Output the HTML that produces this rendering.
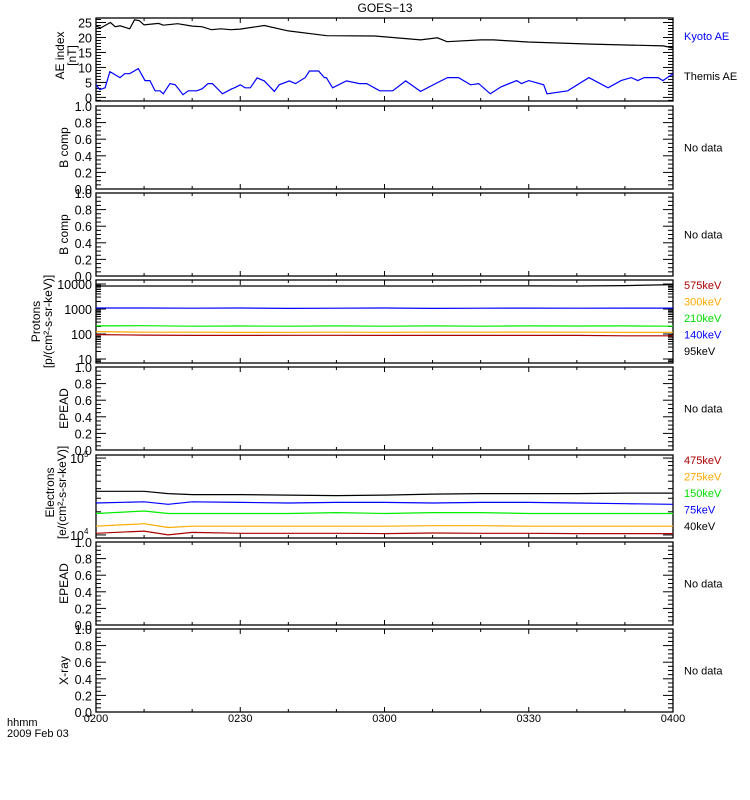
<!DOCTYPE html>
<html><head><meta charset="utf-8"><style>
html,body{margin:0;padding:0;background:#fff;}
svg{display:block;font-family:"Liberation Sans",sans-serif;}
</style></head><body>
<svg id="chart" width="750" height="800" viewBox="0 0 750 800" xmlns="http://www.w3.org/2000/svg">
<text x="385" y="12" font-size="12" text-anchor="middle">GOES−13</text>
</svg>
<script>
// ---- data ----
const aeKyotoTimes=[0,1,3,4,5,7,8,9,10,13,14,17,20,22,24,26,28,30,35,40,48,58,67.5,71,73,80,82.7,89.8,103,118,120];
const aeKyotoValues=[23.8,23.2,25,23.6,23.9,22.9,25.9,25.6,24.2,24.7,24.1,24.6,23.8,23.6,22.6,22.9,22.6,22.8,24,22.2,20.6,20.5,19.2,19.9,18.6,19.2,19.2,18.5,17.8,17.2,16.5];
const aeThemisTimes=[0,0.8,1.9,2.9,5,6,7,8.8,10.2,11.2,12.3,13.3,14,15.4,16.5,18.1,19.2,21,22.1,23.3,24.2,26.3,28.3,28.8,30,31,32.1,33.5,35,37.1,38.1,40.2,41.5,43.5,44.4,46.3,47.5,47.9,49.2,52.1,54.8,56.3,59,61.7,64.4,67.5,70.6,73.1,75.4,77.9,79.6,82,84.2,87.5,88.5,90,93.1,93.8,98.1,102.5,106.5,109.2,111.3,112.7,114,116.9,117.9,120];
const aeThemisValues=[4.2,2.6,3.2,8.6,6.6,7.9,7.9,9.6,5.6,5.6,2.2,2.2,1.2,4.6,4.2,0.9,2.2,2.2,2.9,4.6,4.6,1.2,2.9,3.2,4.2,3.2,3.2,6.5,5.5,2.0,4.2,5.5,4.6,6.6,8.8,8.8,6.6,6.6,3.2,5.5,4.6,4.6,2.2,2.2,5.5,2.0,4.6,6.6,6.6,4.2,4.6,1.2,3.5,5.6,4.6,5.6,4.2,1.2,2.2,6.6,3.2,5.6,6.6,5.6,6.6,6.6,5.6,7.9];
const protonTimes=[0,10,20,30,40,50,60,70,80,90,100,110,120];
const proton95=[8300,8300,8300,8300,8300,8300,8300,8300,8400,8400,8300,8600,9500];
const proton140=[1100,1100,1080,1100,1060,1080,1100,1060,1080,1090,1080,1090,1090];
const proton210=[210,215,205,208,205,210,206,210,205,210,208,210,205];
const proton300=[125,118,118,116,117,118,117,118,118,119,118,117,117];
const proton575=[95,90,88,88,89,89,88,88,88,88,88,85,85];
const elecTimes=[0,10,15,20,30,40,50,60,70,80,90,100,110,120];
const elec40=[37000,37000,34500,33500,33500,33000,32500,33000,34000,34500,34500,34500,35000,35000];
const elec75=[26000,27000,25000,27000,26500,26000,26500,26500,26000,26500,26500,26000,25500,25000];
const elec150=[19000,20500,19000,19000,19000,19000,19500,19000,19500,19500,19000,19000,19000,19000];
const elec275=[13000,14000,12500,13000,13000,13000,13000,13000,13200,13200,13000,13000,13000,13000];
const elec475=[10500,11200,10000,10800,10500,10500,10500,10400,10600,10500,10500,10400,10400,10400];
const timeTickLabels=['0200','0230','0300','0330','0400'];

// ---- layout ----
const svg=document.getElementById('chart');
const NS='http://www.w3.org/2000/svg';
const L=96,R=673,H=83;
const tops=[18,106,193,280,367,455,542,629];
const xS=t=>L+(R-L)*t/120;
function el(tag,attrs,parent){const e=document.createElementNS(NS,tag);for(const k in attrs)e.setAttribute(k,attrs[k]);(parent||svg).appendChild(e);return e;}
function txt(s,x,y,attrs,parent){const e=el('text',Object.assign({x:x,y:y,'font-size':12},attrs||{}),parent);e.textContent=s;return e;}

function frame(i,name){
  const g=el('g',{});
  
  
  const t=tops[i];
  const r=el('rect',{x:L,y:t,width:R-L,height:H,fill:'none',stroke:'#000','stroke-width':1.3},g);
  
  
  for(let m=0;m<=120;m+=10){
    const x=xS(m),len=(m%30===0)?5:3;
    el('line',{x1:x,y1:t+H,x2:x,y2:t+H-len,stroke:'#000'},g);
    el('line',{x1:x,y1:t,x2:x,y2:t+len,stroke:'#000'},g);
  }
  return g;
}
function linTicks(g,t,min,max,major,minor,fmt){
  const ys=v=>t+H-(v-min)/(max-min)*H;
  const n0=Math.ceil(min/minor-1e-9),n1=Math.floor(max/minor+1e-9);
  for(let n=n0;n<=n1;n++){
    const v=n*minor;
    const isMaj=Math.abs(v/major-Math.round(v/major))<1e-6;
    const len=isMaj?10:5,y=ys(v);
    el('line',{x1:L,y1:y,x2:L+len,y2:y,stroke:'#000'},g);
    el('line',{x1:R,y1:y,x2:R-len,y2:y,stroke:'#000'},g);
    if(isMaj){const tl=txt(fmt(v),L-4,y+5,{'text-anchor':'end','font-size':12.5},g);
      
      }
  }
  return ys;
}
function ytitle(g,lines,cx,cy){
  lines.forEach((s,k)=>{
    const x=cx+k*12;
    const tt=txt(s,x,cy,{'text-anchor':'middle','font-size':12,transform:`rotate(-90 ${x} ${cy})`},g);
    
    
  });
}
function rlabel(g,s,y,color){
  const e=txt(s,684,y,{fill:color,'font-size':11},g);
  
  
  return e;
}
function series(g,times,vals,xf,yf,color,name){
  const d=times.map((tm,k)=>(k?'L':'M')+xf(tm).toFixed(1)+','+yf(vals[k]).toFixed(1)).join('');
  const p=el('path',{d:d,fill:'none',stroke:color,'stroke-width':1.2},g);
  
  
}
function noData(i,name,title){
  const g=frame(i,name);
  linTicks(g,tops[i],0,1,0.2,0.05,v=>v.toFixed(1));
  ytitle(g,[title],68,tops[i]+H/2);
  const nd=txt('No data',684,tops[i]+H/2+4,{'font-size':11},g);
  
  
}
function logPanel(i,name,lmin,lmax,labels){
  const g=frame(i,name),t=tops[i];
  const ys=v=>t+H-(Math.log10(v)-lmin)/(lmax-lmin)*H;
  for(let d=Math.floor(lmin);d<=Math.ceil(lmax);d++){
    for(let m=1;m<10;m++){
      const v=m*Math.pow(10,d),lv=Math.log10(v);
      if(lv<lmin||lv>lmax)continue;
      const y=ys(v),len=m===1?10:5;
      el('line',{x1:L,y1:y,x2:L+len,y2:y,stroke:'#000'},g);
      el('line',{x1:R,y1:y,x2:R-len,y2:y,stroke:'#000'},g);
      if(m===1&&labels){labels(g,d,y);}
    }
  }
  return {g:g,ys:ys};
}

// Panel 0: AE index
(function(){
  const g=frame(0,'ae-index-panel'),t=tops[0];
  const ys=linTicks(g,t,-1.2,26.5,5,1,v=>String(Math.round(v)));
  series(g,aeKyotoTimes,aeKyotoValues,xS,ys,'#000','kyoto-ae-line');
  series(g,aeThemisTimes,aeThemisValues,xS,ys,'#0000ff','themis-ae-line');
  ytitle(g,['AE index','[nT]'],64,t+H/2-4);
  rlabel(g,'Kyoto AE',t+22,'#0000ff');
  rlabel(g,'Themis AE',t+62,'#000');
})();
noData(1,'b-comp-panel-1','B comp');
noData(2,'b-comp-panel-2','B comp');
// Panel 3: protons
(function(){
  const p=logPanel(3,'protons-panel',0.84,4.16,(g,d,y)=>{
    if(d<1||d>4)return;
    const e=txt(String(Math.pow(10,d)),L-4,y+5,{'text-anchor':'end','font-size':12.5},g);
    
    
  });
  const g=p.g,t=tops[3];
  series(g,protonTimes,proton95,xS,p.ys,'#000','proton-95kev-line');
  series(g,protonTimes,proton140,xS,p.ys,'#0000ff','proton-140kev-line');
  series(g,protonTimes,proton210,xS,p.ys,'#00ee00','proton-210kev-line');
  series(g,protonTimes,proton300,xS,p.ys,'#ffaa00','proton-300kev-line');
  series(g,protonTimes,proton575,xS,p.ys,'#aa0000','proton-575kev-line');
  ytitle(g,['Protons','[p/(cm²-s-sr-keV)]'],40,t+H/2);
  [['575keV','#aa0000'],['300keV','#ffaa00'],['210keV','#00dd00'],['140keV','#0000ff'],['95keV','#000']].forEach((a,k)=>rlabel(g,a[0],t+9+k*16.5,a[1]));
})();
noData(4,'epead-panel-1','EPEAD');
// Panel 5: electrons
(function(){
  const p=logPanel(5,'electrons-panel',3.96,5.04,(g,d,y)=>{
    const e=txt('10',L-12,y+5,{'text-anchor':'end','font-size':12.5},g);
    
    
    txt(String(d),L-12,y-1,{'font-size':8},g);
  });
  const g=p.g,t=tops[5];
  series(g,elecTimes,elec40,xS,p.ys,'#000','electron-40kev-line');
  series(g,elecTimes,elec75,xS,p.ys,'#0000ff','electron-75kev-line');
  series(g,elecTimes,elec150,xS,p.ys,'#00ee00','electron-150kev-line');
  series(g,elecTimes,elec275,xS,p.ys,'#ffaa00','electron-275kev-line');
  series(g,elecTimes,elec475,xS,p.ys,'#aa0000','electron-475kev-line');
  ytitle(g,['Electrons','[e/(cm²-s-sr-keV)]'],54,t+H/2-4);
  [['475keV','#aa0000'],['275keV','#ffaa00'],['150keV','#00dd00'],['75keV','#0000ff'],['40keV','#000']].forEach((a,k)=>rlabel(g,a[0],t+9+k*16.5,a[1]));
})();
noData(6,'epead-panel-2','EPEAD');
noData(7,'x-ray-panel','X-ray');

// time axis labels
timeTickLabels.forEach((s,k)=>{
  const e=txt(s,xS(k*30),722,{'text-anchor':'middle','font-size':11});
  
  
});
const h1=txt('hhmm',7,726,{'font-size':11});


const h2=txt('2009 Feb 03',7,737,{'font-size':11});


</script>
</body></html>
